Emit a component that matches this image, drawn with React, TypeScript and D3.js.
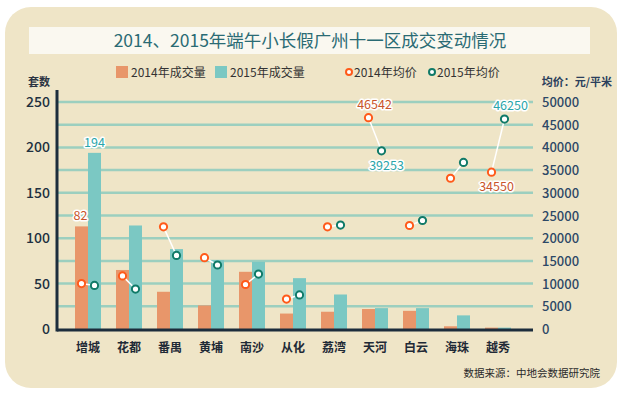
import { useRef, useEffect } from 'react'
import * as d3 from 'd3'

const districts = ['增城', '花都', '番禺', '黄埔', '南沙', '从化', '荔湾', '天河', '白云', '海珠', '越秀']
const volume2014 = [113, 65, 41, 26, 63, 17, 19, 22, 20, 3, 1.5]
const volume2015 = [194, 114, 88, 76, 74, 56, 38, 23, 23, 15, 1.5]
const price2014 = [10000, 11700, 22500, 15700, 9800, 6600, 22500, 46542, 22800, 33200, 34550]
const price2015 = [9600, 8800, 16200, 14100, 12100, 7500, 22900, 39253, 23900, 36700, 46250]
const volumeTicks = [0, 50, 100, 150, 200, 250]
const priceTicks = d3.range(0, 50001, 5000)

// annotated values: [district index, series, text]
const volumeNotes: [number, '2014' | '2015', string][] = [
  [0, '2014', '82'],
  [0, '2015', '194'],
]
const priceNotes: [number, '2014' | '2015', string, 'above' | 'below'][] = [
  [7, '2014', '46542', 'above'],
  [7, '2015', '39253', 'below'],
  [10, '2014', '34550', 'below'],
  [10, '2015', '46250', 'above'],
]

const FONT = '"Noto Sans CJK SC", "Noto Sans", sans-serif'
const ORANGE = '#e8966a'
const TEAL = '#7bc8c3'
const ORANGE_DOT = '#ff5a1a'
const TEAL_DOT = '#107a68'
const ORANGE_TEXT = '#c9542a'
const TEAL_TEXT = '#2aa5aa'

export default function App() {
  const svgRef = useRef<SVGSVGElement>(null)

  useEffect(() => {
    document.body.style.margin = '0'
    if (!svgRef.current) return
    const svg = d3.select(svgRef.current)
    svg.selectAll('*').remove()

    const width = 624
    const height = 397
    const left = 57
    const right = 533
    const bottom = 330
    const top = 102

    svg.attr('width', width).attr('height', height)

    // panel
    svg.append('rect').attr('width', width).attr('height', height).attr('fill', '#fff')
    svg.append('rect')
      .attr('x', 5).attr('y', 7).attr('width', 612).attr('height', 381)
      .attr('rx', 26).attr('fill', '#efe5c7')

    // title
    svg.append('rect')
      .attr('x', 29).attr('y', 27).attr('width', 561).attr('height', 27)
      .attr('fill', '#faf8f0')
    svg.append('text')
      .attr('x', 310).attr('y', 47)
      .attr('text-anchor', 'middle')
      .attr('font-family', FONT)
      .attr('font-size', 17.5)
      .attr('fill', '#2a6b74')
      .text('2014、2015年端午小长假广州十一区成交变动情况')

    // legend
    const legend = svg.append('g').attr('font-family', FONT).attr('font-size', 12).attr('fill', '#333')
    legend.append('rect').attr('x', 116).attr('y', 66).attr('width', 12).attr('height', 12).attr('fill', ORANGE)
    legend.append('text').attr('x', 131).attr('y', 76.5).text('2014年成交量')
    legend.append('rect').attr('x', 215).attr('y', 66).attr('width', 12).attr('height', 12).attr('fill', TEAL)
    legend.append('text').attr('x', 230).attr('y', 76.5).text('2015年成交量')
    legend.append('circle').attr('cx', 349).attr('cy', 72).attr('r', 3).attr('fill', '#fff')
      .attr('stroke', ORANGE_DOT).attr('stroke-width', 2)
    legend.append('text').attr('x', 354).attr('y', 76.5).text('2014年均价')
    legend.append('circle').attr('cx', 432).attr('cy', 72).attr('r', 3).attr('fill', '#fff')
      .attr('stroke', TEAL_DOT).attr('stroke-width', 2)
    legend.append('text').attr('x', 437).attr('y', 76.5).text('2015年均价')

    // axis titles
    svg.append('text').attr('x', 39).attr('y', 86).attr('text-anchor', 'middle')
      .attr('font-family', FONT).attr('font-size', 11).attr('font-weight', 'bold').attr('fill', '#2b3442')
      .text('套数')
    svg.append('text').attr('x', 577).attr('y', 86).attr('text-anchor', 'middle')
      .attr('font-family', FONT).attr('font-size', 11).attr('font-weight', 'bold').attr('fill', '#2b3f5c')
      .text('均价：元/平米')

    const x = d3.scaleBand<string>().domain(districts).range([67.5, 518.5])
    const bw = 13
    const cx = (d: string) => (x(d) ?? 0) + x.bandwidth() / 2
    const yL = d3.scaleLinear().domain([0, 250]).range([bottom - 1, top])
    const yR = d3.scaleLinear().domain([0, 50000]).range([bottom - 1, top])

    // grid lines every half tick
    svg.append('g')
      .selectAll('line')
      .data(d3.range(25, 251, 25))
      .enter()
      .append('line')
      .attr('x1', left).attr('x2', right)
      .attr('y1', (d) => yL(d)).attr('y2', (d) => yL(d))
      .attr('stroke', '#9ccfbf').attr('stroke-width', 2.5)

    // bars
    svg.append('g').selectAll('rect')
      .data(districts)
      .enter()
      .append('rect')
      .attr('x', (d) => cx(d) - bw)
      .attr('y', (_, i) => yL(volume2014[i]))
      .attr('width', bw)
      .attr('height', (_, i) => bottom - yL(volume2014[i]))
      .attr('fill', ORANGE)
    svg.append('g').selectAll('rect')
      .data(districts)
      .enter()
      .append('rect')
      .attr('x', (d) => cx(d))
      .attr('y', (_, i) => yL(volume2015[i]))
      .attr('width', bw)
      .attr('height', (_, i) => bottom - yL(volume2015[i]))
      .attr('fill', TEAL)

    // axes lines
    svg.append('line').attr('x1', left).attr('x2', left).attr('y1', 90).attr('y2', bottom + 1.5)
      .attr('stroke', '#1c2d3c').attr('stroke-width', 3)
    svg.append('line').attr('x1', left).attr('x2', right).attr('y1', bottom).attr('y2', bottom)
      .attr('stroke', '#1c2d3c').attr('stroke-width', 3)

    // left ticks
    svg.append('g').selectAll('text')
      .data(volumeTicks)
      .enter()
      .append('text')
      .attr('x', 50).attr('y', (d) => yL(d) + 5)
      .attr('text-anchor', 'end')
      .attr('font-family', FONT).attr('font-size', 14).attr('font-weight', 500)
      .attr('fill', '#213040')
      .text((d) => d)

    // right ticks
    svg.append('g').selectAll('text')
      .data(priceTicks)
      .enter()
      .append('text')
      .attr('x', 542).attr('y', (d) => yR(d) + 5)
      .attr('font-family', FONT).attr('font-size', 13).attr('font-weight', 500)
      .attr('fill', '#2d4866')
      .text((d) => d)

    // categories
    svg.append('g').selectAll('text')
      .data(districts)
      .enter()
      .append('text')
      .attr('x', (d) => cx(d)).attr('y', 352)
      .attr('text-anchor', 'middle')
      .attr('font-family', FONT).attr('font-size', 12).attr('font-weight', 'bold')
      .attr('fill', '#1f2a36')
      .text((d) => d)

    // price connectors and dots
    const p1x = (d: string) => cx(d) - bw / 2
    const p2x = (d: string) => cx(d) + bw / 2
    svg.append('g').selectAll('line')
      .data(districts)
      .enter()
      .append('line')
      .attr('x1', (d) => p1x(d)).attr('y1', (_, i) => yR(price2014[i]))
      .attr('x2', (d) => p2x(d)).attr('y2', (_, i) => yR(price2015[i]))
      .attr('stroke', '#fff').attr('stroke-width', 1.5)
    svg.append('g').selectAll('circle')
      .data(districts)
      .enter()
      .append('circle')
      .attr('cx', (d) => p1x(d)).attr('cy', (_, i) => yR(price2014[i]))
      .attr('r', 3.6).attr('fill', '#fff')
      .attr('stroke', ORANGE_DOT).attr('stroke-width', 2)
    svg.append('g').selectAll('circle')
      .data(districts)
      .enter()
      .append('circle')
      .attr('cx', (d) => p2x(d)).attr('cy', (_, i) => yR(price2015[i]))
      .attr('r', 3.6).attr('fill', '#fff')
      .attr('stroke', TEAL_DOT).attr('stroke-width', 2)

    // value annotations with white halo
    const note = (tx: number, ty: number, color: string, label: string) => {
      svg.append('text')
        .attr('x', tx).attr('y', ty)
        .attr('text-anchor', 'middle')
        .attr('font-family', FONT).attr('font-size', 12.5)
        .attr('fill', color)
        .attr('stroke', '#fff').attr('stroke-width', 3).attr('stroke-linejoin', 'round')
        .attr('paint-order', 'stroke')
        .text(label)
    }
    volumeNotes.forEach(([i, s, label]) => {
      const d = districts[i]
      const v = s === '2014' ? volume2014[i] : volume2015[i]
      const tx = s === '2014' ? p1x(d) - 1 : p2x(d)
      note(tx, yL(v) - 6, s === '2014' ? ORANGE_TEXT : TEAL_TEXT, label)
    })
    priceNotes.forEach(([i, s, label, pos]) => {
      const d = districts[i]
      const v = s === '2014' ? price2014[i] : price2015[i]
      const tx = s === '2014' ? p1x(d) : p2x(d)
      const ty = pos === 'above' ? yR(v) - 9 : yR(v) + 19
      note(tx + (pos === 'below' ? 5 : 6), ty, s === '2014' ? ORANGE_TEXT : TEAL_TEXT, label)
    })

    // source
    svg.append('text')
      .attr('x', 600).attr('y', 377)
      .attr('text-anchor', 'end')
      .attr('font-family', FONT).attr('font-size', 10.5)
      .attr('fill', '#2a2a2a')
      .text('数据来源：中地会数据研究院')
  }, [])

  return <svg ref={svgRef} style={{ display: 'block' }} />
}
